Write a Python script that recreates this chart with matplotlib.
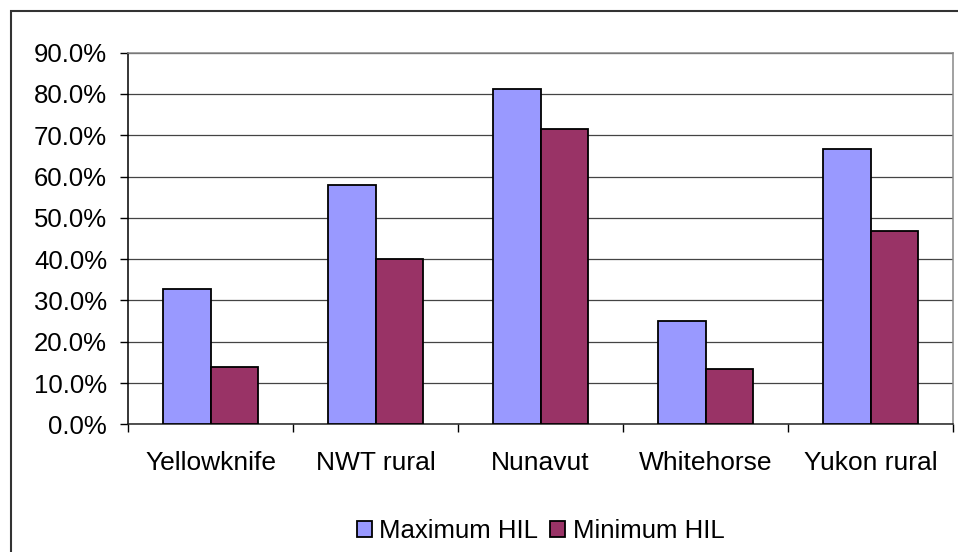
import matplotlib
matplotlib.use('Agg')
import matplotlib.pyplot as plt
import numpy as np
from matplotlib.patches import Rectangle

categories = ['Yellowknife', 'NWT rural', 'Nunavut', 'Whitehorse', 'Yukon rural']
max_hil = [32.8, 57.9, 81.2, 25.0, 66.7]
min_hil = [13.9, 40.0, 71.5, 13.4, 46.9]
yticks = [0, 10, 20, 30, 40, 50, 60, 70, 80, 90]

plt.rcParams['font.family'] = ['Liberation Sans', 'DejaVu Sans']

W, H = 958, 552
fig = plt.figure(figsize=(W / 100, H / 100), dpi=100)
ax = fig.add_axes([128 / W, 1 - 424.3 / H, (953 - 128) / W, (424.3 - 52.7) / H])

x = np.arange(len(categories))
w = 1 / 3.5
ax.bar(x - w / 2, max_hil, w, color='#9999FF', edgecolor='black', linewidth=1.3,
       label='Maximum HIL', zorder=3)
ax.bar(x + w / 2, min_hil, w, color='#993366', edgecolor='black', linewidth=1.3,
       label='Minimum HIL', zorder=3)

ax.set_xlim(-0.5, len(categories) - 0.5)
ax.set_ylim(0, 90)
ax.set_yticks(yticks)
ax.set_yticklabels([f'{v:.1f}%' for v in yticks], fontsize=18.5)
ax.yaxis.grid(True, color='#444444', linewidth=0.9, zorder=0)

ax.set_xticks(x)
ax.set_xticklabels(categories, fontsize=19)
ax.set_xticks(np.arange(-0.5, len(categories)), minor=True)
ax.tick_params(axis='x', which='major', length=0, pad=19)
ax.tick_params(axis='x', which='minor', length=6, width=1, direction='out')
ax.tick_params(axis='y', length=6, width=1, direction='out', pad=9)

ax.spines['left'].set_color('black')
ax.spines['bottom'].set_color('#222222')
ax.spines['top'].set_color('#888888')
ax.spines['right'].set_color('#888888')
for s in ax.spines.values():
    s.set_linewidth(1.1)

fig.legend(loc='center', bbox_to_anchor=(540.5 / W, 1 - 531 / H), ncol=2,
           frameon=False, fontsize=18.5, handlelength=0.58, handleheight=0.58,
           handletextpad=0.3, columnspacing=0.45)

# outer chart frame
fig.patches.append(Rectangle((11 / W, -0.1), 1.2, 1 - 11 / H + 0.1,
                             transform=fig.transFigure, fill=False,
                             edgecolor='#333333', linewidth=1.5))

fig.savefig('out.png', dpi=100)
